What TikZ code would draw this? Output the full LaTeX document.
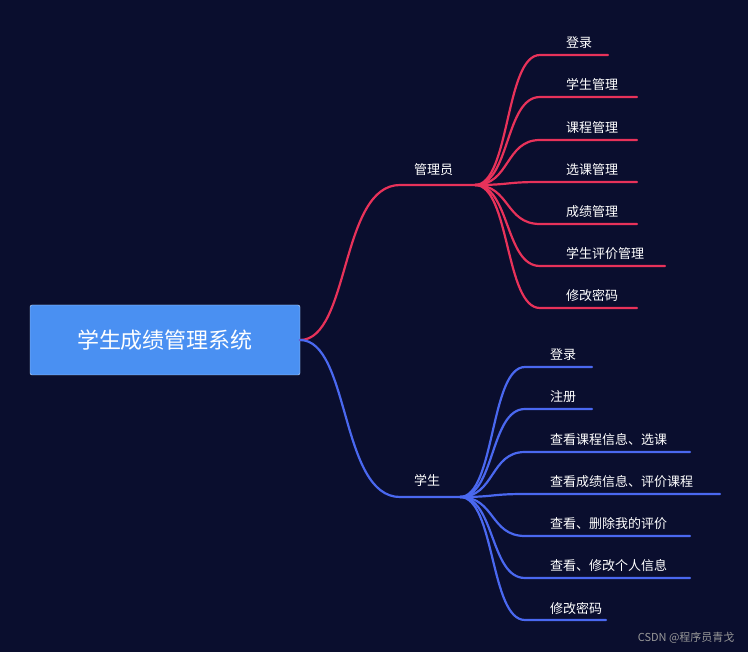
\documentclass[tikz,border=0pt]{standalone}
\usepackage{fontspec}
\newfontfamily\cjk{Noto Sans CJK SC}
\definecolor{bg}{HTML}{0A0E2E}
\definecolor{rd}{HTML}{E8325A}
\definecolor{bl}{HTML}{4A68F0}
\definecolor{rootc}{HTML}{4A90F2}
\tikzset{lbl/.style={text=white,font=\cjk\fontsize{13}{15}\selectfont,anchor=base west,inner sep=0},
 br/.style={line width=2.2pt,line cap=round}}
\begin{document}
\begin{tikzpicture}[x=1pt,y=-1pt]
\fill[bg] (0,0) rectangle (748,652);
\useasboundingbox (0,0) rectangle (748,652);
\node[draw=white!70!rootc,fill=rootc,rounded corners=2pt,minimum width=270pt,minimum height=70pt,text=white,font=\cjk\fontsize{22}{26}\selectfont] (root) at (165,340) {学生成绩管理系统};
\coordinate (rr) at (300,340);
% admin
\coordinate (a0) at (400,185); \coordinate (a1) at (475,185);
\draw[br,rd] (rr) .. controls (350,340) and (340,185) .. (a0) -- (a1);
\node[lbl] (admin) at (414,175) {管理员};
\foreach \y/\e/\t [count=\i] in {55/608/登录,97/637/学生管理,140/637/课程管理,182/637/选课管理,224/637/成绩管理,266/665/学生评价管理,308/637/修改密码}{
 \coordinate (as\i) at (540,\y); \coordinate (ae\i) at (\e,\y);
 \draw[br,rd] (a1) .. controls (510,185) and (505,\y) .. (as\i) -- (ae\i);
 \node[lbl] (al\i) at (566,\y-7) {\t};
}
% student
\coordinate (s0) at (400,497); \coordinate (s1) at (460,497);
\draw[br,bl] (rr) .. controls (350,340) and (340,497) .. (s0) -- (s1);
\node[lbl] (stu) at (414,486) {学生};
\foreach \y/\e/\t [count=\i] in {367/592/登录,409/592/注册,452/690/查看课程信息、选课,494/720/查看成绩信息、评价课程,536/690/查看、删除我的评价,578/690/查看、修改个人信息,620/606/修改密码}{
 \coordinate (ss\i) at (525,\y); \coordinate (se\i) at (\e,\y);
 \draw[br,bl] (s1) .. controls (495,497) and (490,\y) .. (ss\i) -- (se\i);
 \node[lbl] (sl\i) at (550,\y-7) {\t};
}
\node[text=gray!80,font=\cjk\fontsize{11}{13}\selectfont,anchor=east] (wm) at (738,638) {CSDN @程序员青戈};
\end{tikzpicture}
\end{document}
